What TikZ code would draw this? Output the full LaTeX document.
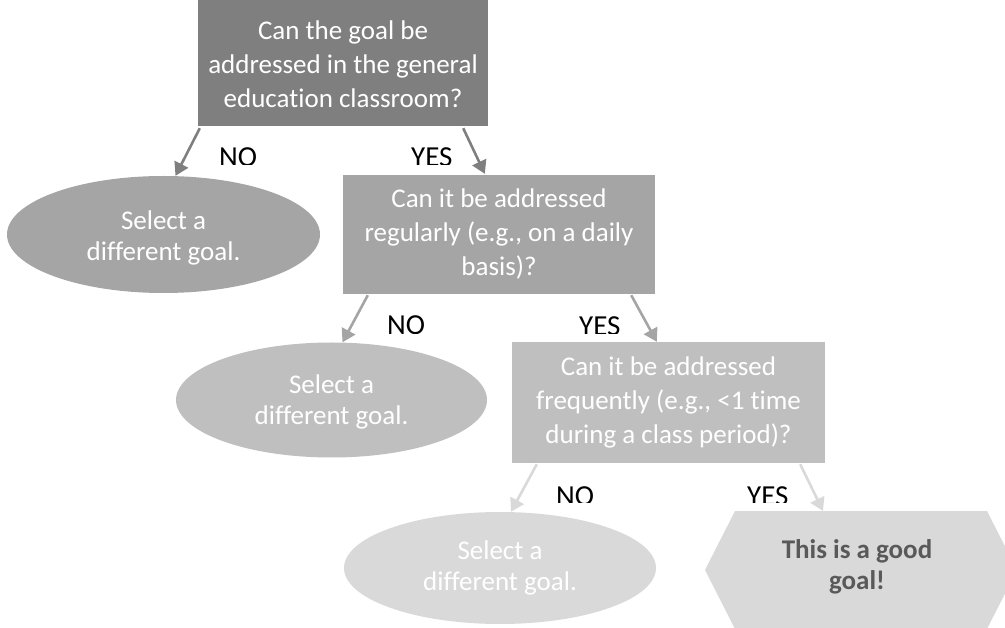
\documentclass[tikz,border=0pt]{standalone}
\usepackage{fontspec}
\setmainfont{Carlito}[Ligatures=NoCommon]
\usetikzlibrary{arrows.meta,calc,shapes.geometric}
\definecolor{lvA}{HTML}{7F7F7F}
\definecolor{lvB}{HTML}{A5A5A5}
\definecolor{lvC}{HTML}{BFBFBF}
\definecolor{lvD}{HTML}{D9D9D9}
\definecolor{txD}{HTML}{595959}
\newcommand\mylift[2]{\raisebox{#1}[\height][\depth]{\begin{tabular}{@{}c@{}}#2\end{tabular}}}
\begin{document}
\begin{tikzpicture}[x=1pt,y=-1pt,
  qbox/.style={rectangle, inner sep=0pt, text=white, font=\fontsize{27}{34}\selectfont},
  ell/.style={ellipse, inner sep=0pt, text=white, font=\fontsize{27}{31}\selectfont},
  conn/.style={line width=2.6pt, -{Triangle[width=15pt,length=13pt]}},
  lab/.style={anchor=base west, inner sep=0pt, font=\fontsize{29}{33}\selectfont, text=black}
]
\useasboundingbox (0,0) rectangle (1005,628);
% level 1
\node[qbox, fill=lvA, minimum width=290pt, minimum height=126pt] (q1) at (343,63)
  {\mylift{-4pt}{Can the goal be\\addressed in the general\\education classroom?}};
\node[ell, fill=lvB, minimum width=313pt, minimum height=117pt] (e1) at (163.5,234.5)
  {\mylift{-4pt}{Select a\\different goal.}};
\node[qbox, fill=lvB, minimum width=312pt, minimum height=119pt] (q2) at (499,234.5)
  {\mylift{0pt}{Can it be addressed\\regularly (e.g., on a daily\\basis)?}};
% level 2
\node[ell, fill=lvC, minimum width=311pt, minimum height=115pt] (e2) at (331.5,400)
  {\mylift{-3pt}{Select a\\different goal.}};
\node[qbox, fill=lvC, minimum width=313pt, minimum height=121pt] (q3) at (668.5,402.5)
  {\mylift{0pt}{Can it be addressed\\frequently (e.g., <1 time\\during a class period)?}};
% level 3
\node[ell, fill=lvD, minimum width=312pt, minimum height=112pt] (e3) at (500,568)
  {\mylift{-1pt}{Select a\\different goal.}};
\fill[lvD, overlay] (705,570) -- (735,511) -- (987,511) -- (1017,570) -- (987,629) -- (735,629) -- cycle;
\node[inner sep=0pt, text=txD, font=\fontsize{27}{31}\selectfont\bfseries] (good) at (857,568)
  {\mylift{0pt}{This is a good\\goal!}};
% connectors
\draw[conn, lvA] ($(q1.south west)+(2,2)$) -- ($(e1.north)+(12,0)$);
\draw[conn, lvA] ($(q1.south east)+(-25,2)$) -- ($(q2.north west)+(142,-1)$);
\draw[conn, lvB] ($(q2.south west)+(25,1)$) -- ($(e2.north)+(11,0)$);
\draw[conn, lvB] ($(q2.south east)+(-24,1)$) -- ($(q3.north west)+(145,0)$);
\draw[conn, lvD] ($(q3.south west)+(25,1)$) -- ($(e3.north)+(11,0)$);
\draw[conn, lvD] ($(q3.south east)+(-25,1)$) -- ($(good)+(-34,-57)$);
% labels (cut at the bottom as in the original)
\begin{scope}
  \clip (0,130) rectangle (1005,165);
  \node[lab] (no1) at (219,167) {NO};
  \node[lab] (yes1) at (411,167) {YES};
\end{scope}
\begin{scope}
  \clip (0,300) rectangle (1005,334);
  \node[lab] (no2) at (387,335) {NO};
  \node[lab] (yes2) at (579,336) {YES};
\end{scope}
\begin{scope}
  \clip (0,470) rectangle (1005,502);
  \node[lab] (no3) at (556,505) {NO};
  \node[lab] (yes3) at (747,505) {YES};
\end{scope}
\end{tikzpicture}
\end{document}
